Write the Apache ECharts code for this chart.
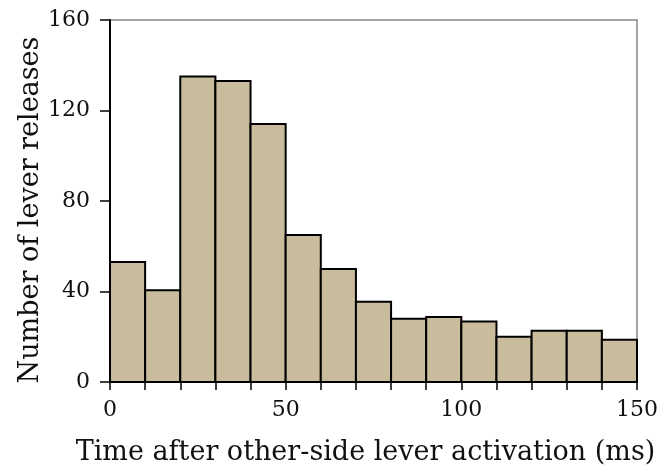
<!DOCTYPE html>
<html>
<head>
<meta charset="utf-8">
<script src="https://cdn.jsdelivr.net/npm/echarts@6/dist/echarts.min.js"></script>
<style>html,body{margin:0;padding:0;background:#fff;}#c{width:659px;height:475px;}</style>
</head>
<body>
<div id="c"></div>
<script>
var binStarts = [0, 10, 20, 30, 40, 50, 60, 70, 80, 90, 100, 110, 120, 130, 140];
var binWidth = 10;
var counts = [53, 40.5, 135, 133, 114, 65, 50, 35.5, 28, 28.7, 26.7, 20, 22.7, 22.7, 18.7];
var yTicks = [0, 40, 80, 120, 160];
var xTicks = [0, 50, 100, 150];

var data = binStarts.map(function (s, i) { return [s, s + binWidth, counts[i]]; });
var font = '"DejaVu Serif", "Liberation Serif", serif';
var chart = echarts.init(document.getElementById('c'), null, { renderer: 'canvas' });
chart.setOption({
  animation: false,
  backgroundColor: '#fff',
  grid: { left: 110, right: 22, top: 20, bottom: 93, outerBoundsMode: 'none', containLabel: false,
          show: true, borderColor: '#888', borderWidth: 1.5, backgroundColor: 'transparent' },
  xAxis: {
    type: 'value', min: 0, max: 150, interval: 10,
    name: 'Time after other-side lever activation (ms)',
    nameLocation: 'middle', nameGap: 57, nameMoveOverlap: false,
    nameTextStyle: { fontFamily: font, fontSize: 27, color: '#111', padding: [0, 16, 0, 0] },
    axisLine: { show: true, onZero: false, lineStyle: { color: '#000', width: 2 } },
    axisTick: { show: true, inside: false, length: 8, lineStyle: { color: '#000', width: 1.5 } },
    axisLabel: {
      fontFamily: font, fontSize: 22, color: '#111', margin: 17,
      formatter: function (v) { return xTicks.indexOf(v) >= 0 ? String(v) : ''; }
    },
    splitLine: { show: false }
  },
  yAxis: {
    type: 'value', min: 0, max: 160, interval: 40,
    name: 'Number of lever releases',
    nameLocation: 'middle', nameGap: 66, nameMoveOverlap: false,
    nameTextStyle: { fontFamily: font, fontSize: 27, color: '#111', padding: [0, 18, 0, 0] },
    axisLine: { show: true, lineStyle: { color: '#000', width: 2 } },
    axisTick: { show: true, inside: false, length: 10, lineStyle: { color: '#000', width: 1.5 } },
    axisLabel: { fontFamily: font, fontSize: 22, color: '#111', margin: 20,
      formatter: function (v) { return yTicks.indexOf(v) >= 0 ? String(v) : ''; } },
    splitLine: { show: false }
  },
  series: [{
    type: 'custom',
    data: data,
    encode: { x: [0, 1], y: 2 },
    renderItem: function (params, api) {
      var p0 = api.coord([api.value(0), api.value(2)]);
      var p1 = api.coord([api.value(1), 0]);
      return {
        type: 'rect',
        shape: { x: p0[0], y: p0[1], width: p1[0] - p0[0], height: p1[1] - p0[1] },
        style: { fill: '#c9bc9c', stroke: '#000', lineWidth: 2 }
      };
    }
  }]
});
</script>
</body>
</html>
